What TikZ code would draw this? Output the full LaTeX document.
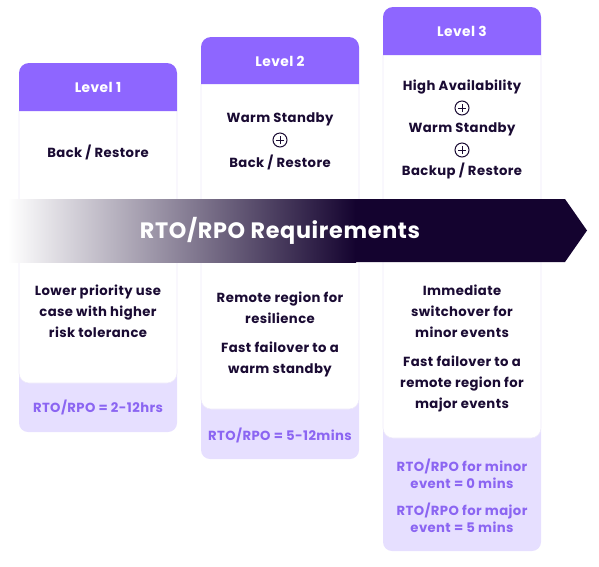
\documentclass[tikz,border=0pt]{standalone}
\usepackage{fontspec}
\setmainfont{Poppins}[LetterSpace=3]
\definecolor{hdr}{HTML}{8E66FF}
\definecolor{lav}{HTML}{E6DFFF}
\definecolor{lavtxt}{HTML}{8B65F2}
\definecolor{ink}{HTML}{1A0B33}
\definecolor{arrowdark}{HTML}{14032F}
\definecolor{cardline}{HTML}{EEEAFA}
\begin{document}
\begin{tikzpicture}[x=1pt,y=-1pt,
  hdrtxt/.style={text=white,font=\fontsize{13.8}{16}\selectfont\bfseries},
  bodytxt/.style={text=ink,font=\fontsize{13.2}{21}\selectfont\bfseries,align=center},
  lavtext/.style={text=lavtxt,font=\fontsize{13.2}{17}\selectfont\bfseries,align=center},
  card/.style={fill=white,draw=cardline,line width=0.6pt},
  lavbox/.style={fill=lav,rounded corners=9pt},
  plussign/.style={circle,draw=ink,line width=1pt,minimum size=14pt,inner sep=0pt,
    path picture={\draw[ink,line width=1pt] (path picture bounding box.center) +(-4pt,0) -- +(4pt,0)
      (path picture bounding box.center) +(0,-4pt) -- +(0,4pt);}}
]
\useasboundingbox (0,0) rectangle (599,566);
% ---------- column 1 ----------
\fill[lavbox] (19,360) rectangle (177,432);
\path[card] (19,111) -- (19,373) [rounded corners=10pt] -- (19,383) -- (177,383) [sharp corners] -- (177,373) -- (177,111);
\fill[hdr] (19,111) [rounded corners=10pt] -- (19,63) -- (177,63) [sharp corners] -- (177,111) -- cycle;
% ---------- column 2 ----------
\fill[lavbox] (201,390) rectangle (359,459);
\path[card] (201,84) -- (201,399) [rounded corners=10pt] -- (201,409) -- (359,409) [sharp corners] -- (359,399) -- (359,84);
\fill[hdr] (201,84) [rounded corners=10pt] -- (201,37) -- (359,37) [sharp corners] -- (359,84) -- cycle;
% ---------- column 3 ----------
\fill[lavbox] (383,420) rectangle (541,551);
\path[card] (383,55) -- (383,428) [rounded corners=10pt] -- (383,438) -- (541,438) [sharp corners] -- (541,428) -- (541,55);
\fill[hdr] (383,55) [rounded corners=10pt] -- (383,7) -- (541,7) [sharp corners] -- (541,55) -- cycle;
% ---------- arrow ----------
\shade[left color=white,right color=arrowdark] (8,199) rectangle (356,262);
\fill[arrowdark] (355,199) -- (565,199) -- (587,230.5) -- (565,262) -- (355,262) -- cycle;
\node[text=white,font=\fontsize{22.3}{24}\selectfont\bfseries] (title) at (280,231) {RTO/RPO Requirements};
% ---------- texts column 1 ----------
\node[hdrtxt] (h1) at (98,87) {Level 1};
\node[bodytxt] (a1) at (98,152) {Back / Restore};
\node[bodytxt] (b1) at (98,311) {Lower priority use\\case with higher\\risk tolerance};
\node[lavtext] (c1) at (98,407) {RTO/RPO = 2-12hrs};
% ---------- texts column 2 ----------
\node[hdrtxt] (h2) at (280,61) {Level 2};
\node[bodytxt] (a2) at (280,119) {Warm Standby};
\node[plussign] (p2) at (280,140) {};
\node[bodytxt] (a2b) at (280,162) {Back / Restore};
\node[bodytxt] (b2) at (280,307.5) {Remote region for\\resilience};
\node[bodytxt] (b2b) at (280,359.5) {Fast failover to a\\warm standby};
\node[lavtext] (c2) at (280,435) {RTO/RPO = 5-12mins};
% ---------- texts column 3 ----------
\node[hdrtxt] (h3) at (462,31) {Level 3};
\node[bodytxt] (a3) at (462,87) {High Availability};
\node[plussign] (p3a) at (462,108) {};
\node[bodytxt] (a3b) at (462,129) {Warm Standby};
\node[plussign] (p3b) at (462,150) {};
\node[bodytxt] (a3c) at (462,171) {Backup / Restore};
\node[bodytxt] (b3) at (462,311) {Immediate\\switchover for\\minor events};
\node[bodytxt] (b3b) at (462,384) {Fast failover to a\\remote region for\\major events};
\node[lavtext] (c3) at (462,473.5) {RTO/RPO for minor\\event = 0 mins};
\node[lavtext] (c3b) at (462,517.5) {RTO/RPO for major\\event = 5 mins};
\end{tikzpicture}
\end{document}
